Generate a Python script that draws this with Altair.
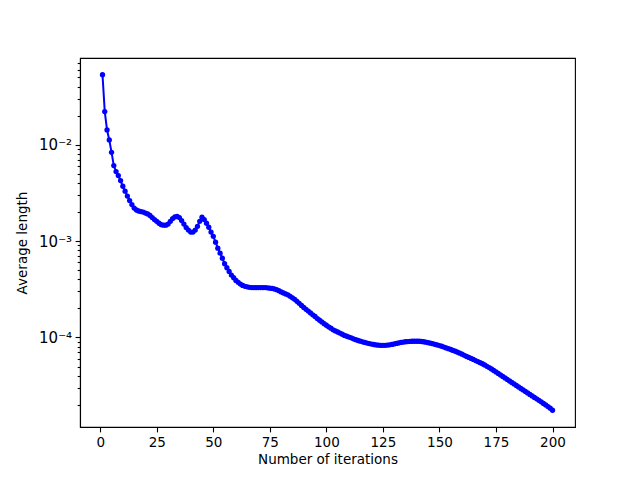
import altair as alt
import pandas as pd

iterations = list(range(1, 201))
avg_length = [
    0.0530, 0.0220, 0.01420, 0.01119, 0.00832, 0.00606, 0.00525, 0.00478, 0.00424, 0.00370,
    0.00329, 0.00293, 0.00263, 0.00239, 0.00220, 0.00210, 0.00205, 0.00202, 0.00200, 0.00195,
    0.00191, 0.00184, 0.00175, 0.00167, 0.00160, 0.00153, 0.00148, 0.00146, 0.00146, 0.00150,
    0.00160, 0.00171, 0.00178, 0.00180, 0.00175, 0.00163, 0.00150, 0.00138, 0.00130, 0.00124,
    0.00124, 0.00130, 0.00142, 0.00160, 0.00177, 0.00167, 0.00153, 0.00139, 0.00124, 0.00112,
    0.000974, 0.000844, 0.000749, 0.000665, 0.000582, 0.000529, 0.000484, 0.000444, 0.000417, 0.000391,
    0.000373, 0.000358, 0.000347, 0.000339, 0.000335, 0.000331, 0.000329, 0.000329, 0.000329, 0.000329,
    0.000329, 0.000329, 0.000329, 0.000327, 0.000325, 0.000323, 0.000319, 0.000313, 0.000306, 0.000297,
    0.000290, 0.000283, 0.000277, 0.000267, 0.000258, 0.000249, 0.000237, 0.000226, 0.000215, 0.000205,
    0.000196, 0.000188, 0.000180, 0.000172, 0.000165, 0.000157, 0.000151, 0.000145, 0.000139, 0.000134,
    0.000129, 0.000125, 0.000120, 0.000117, 0.000114, 0.000111, 0.000108, 0.000105, 0.000103, 0.000101,
    9.91e-5, 9.69e-5, 9.49e-5, 9.31e-5, 9.16e-5, 9.01e-5, 8.88e-5, 8.75e-5, 8.65e-5, 8.55e-5,
    8.46e-5, 8.38e-5, 8.32e-5, 8.30e-5, 8.30e-5, 8.30e-5, 8.34e-5, 8.40e-5, 8.48e-5, 8.58e-5,
    8.69e-5, 8.79e-5, 8.88e-5, 8.96e-5, 9.03e-5, 9.07e-5, 9.11e-5, 9.14e-5, 9.14e-5, 9.14e-5,
    9.14e-5, 9.09e-5, 9.03e-5, 8.94e-5, 8.84e-5, 8.73e-5, 8.63e-5, 8.50e-5, 8.38e-5, 8.24e-5,
    8.11e-5, 7.95e-5, 7.80e-5, 7.66e-5, 7.51e-5, 7.35e-5, 7.20e-5, 7.04e-5, 6.88e-5, 6.71e-5,
    6.54e-5, 6.37e-5, 6.21e-5, 6.06e-5, 5.92e-5, 5.77e-5, 5.63e-5, 5.48e-5, 5.34e-5, 5.19e-5,
    5.03e-5, 4.88e-5, 4.72e-5, 4.55e-5, 4.39e-5, 4.24e-5, 4.09e-5, 3.95e-5, 3.81e-5, 3.67e-5,
    3.54e-5, 3.42e-5, 3.30e-5, 3.18e-5, 3.07e-5, 2.96e-5, 2.86e-5, 2.76e-5, 2.66e-5, 2.57e-5,
    2.48e-5, 2.39e-5, 2.31e-5, 2.23e-5, 2.15e-5, 2.07e-5, 2.00e-5, 1.92e-5, 1.85e-5, 1.76e-5,
]

x_ticks = [0, 25, 50, 75, 100, 125, 150, 175, 200]
y_major = [1e-4, 1e-3, 1e-2]
y_minor = [m * d for d in (1e-5, 1e-4, 1e-3, 1e-2) for m in range(2, 10)]
y_ticks = sorted(y_major + [v for v in y_minor if 1.18e-5 <= v <= 0.079])

df = pd.DataFrame({"iter": iterations, "len": avg_length})

FONT = "DejaVu Sans"

chart = alt.Chart(df).mark_line(
    color="#0000ff", strokeWidth=2,
    point=alt.OverlayMarkDef(color="#0000ff", filled=True, size=28, opacity=1),
).encode(
    x=alt.X("iter:Q",
            scale=alt.Scale(domain=[-8.95, 209.95], nice=False, zero=False),
            axis=alt.Axis(values=x_ticks, title="Number of iterations", grid=False,
                          tickSize=4.9, labelPadding=3.5, titlePadding=4,
                          labelFlush=False, format="d")),
    y=alt.Y("len:Q",
            scale=alt.Scale(type="log", domain=[1.18e-5, 0.0791], nice=False),
            axis=alt.Axis(values=y_ticks, title="Average length", grid=False,
                          tickSize={"condition": {"test": "datum.value == 0.01 || datum.value == 0.001 || datum.value == 0.0001", "value": 4.9}, "value": 2.8},
                          labelExpr="datum.value == 0.01 ? '10⁻²' : datum.value == 0.001 ? '10⁻³' : datum.value == 0.0001 ? '10⁻⁴' : ''",
                          labelFontSize=15, labelPadding=3.5, titlePadding=9)),
).properties(
    width=495, height=369,
    autosize=alt.AutoSizeParams(type="none"),
    padding={"left": 72, "top": 50, "right": 57, "bottom": 45},
).configure_view(
    stroke="black", strokeWidth=1.1
).configure_axis(
    domainColor="black", domainWidth=1.1, tickColor="black", tickWidth=1.1,
    labelColor="black", titleColor="black", labelFont=FONT, titleFont=FONT,
    labelFontSize=13.5, titleFontSize=13.5, titleFontWeight="normal",
)

chart.save("out.html", embed_options={"renderer": "svg", "actions": False})
